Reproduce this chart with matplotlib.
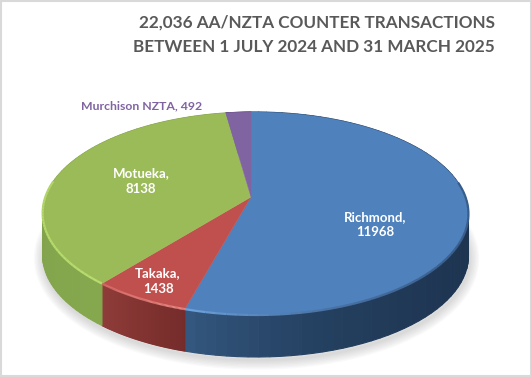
import numpy as np
import matplotlib
matplotlib.use('Agg')
import matplotlib.pyplot as plt
from matplotlib.patches import Rectangle

# values clockwise from 12 o'clock
categories = ['Richmond', 'Takaka', 'Motueka', 'Murchison NZTA']
values = [11968, 1438, 8138, 492]
top_colors = ['#4f81bd', '#c0504d', '#9bbb59', '#8064a2']
# side shading, from start to end of each slice
side_colors = [('#1d3450', '#33577f'), ('#752c2a', '#8f3c39'), ('#85a84e', '#7c9b48'), ('#5f4a7a', '#5f4a7a')]
edge_colors = [('#375c8a', '#6fa2dc'), ('#e88a86', '#d96c68'), ('#b9dc70', '#a8cc62'), ('#8064a2', '#8064a2')]
shade_power = [6, 1, 1, 1]
title_lines = ['22,036 AA/NZTA COUNTER TRANSACTIONS', 'BETWEEN 1 JULY 2024 AND 31 MARCH 2025']

CX, CY = 251, 197
RX, RY = 210, 98.8
TILT, SKEW = 0.1626, 0.021
DEPTH = 42


def project(angle):
    """Angle clockwise from the top of the disc to pixel position, with perspective."""
    u, v = np.sin(angle), -np.cos(angle)
    w = 1 - TILT * v - SKEW * u
    return CX + RX * u / w, CY + RY * v / w


def blend(c1, c2, t):
    a, b = np.array(matplotlib.colors.to_rgb(c1)), np.array(matplotlib.colors.to_rgb(c2))
    return tuple(a + (b - a) * t)


fig = plt.figure(figsize=(5.31, 3.77), dpi=100)
ax = fig.add_axes([0, 0, 1, 1])
ax.set_xlim(0, 531)
ax.set_ylim(377, 0)
ax.axis('off')

ax.add_patch(Rectangle((0.5, 0.5), 530, 375.5, fill=False, ec='#d9d9d9', lw=1.5))

edges = np.cumsum([0] + values) / sum(values) * 2 * np.pi

# soft shadow under the disc
rim = np.linspace(0, 2 * np.pi, 361)
rx, ry = project(rim)
for lw in np.arange(14, 1, -2):
    ax.plot(rx + 1, ry + DEPTH + 3, color='#808080', lw=lw, alpha=0.045, solid_capstyle='round', zorder=2)

# side wall
for i, val in enumerate(values):
    ang = np.linspace(edges[i], edges[i + 1], 80)
    xs, ys = project(ang)
    for j in range(len(ang) - 1):
        t = (j / (len(ang) - 2)) ** shade_power[i]
        c = blend(side_colors[i][0], side_colors[i][1], t)
        ax.fill([xs[j], xs[j + 1], xs[j + 1], xs[j]],
                [ys[j], ys[j + 1], ys[j + 1] + DEPTH, ys[j] + DEPTH],
                color=c, lw=0.8, zorder=3)

# top face
for i, val in enumerate(values):
    ang = np.linspace(edges[i], edges[i + 1], 120)
    xs, ys = project(ang)
    ax.fill(np.r_[CX, xs], np.r_[CY, ys], color=top_colors[i], lw=0.3, zorder=4)

# bevel highlight along the near edge
for i, val in enumerate(values):
    ang = np.linspace(edges[i], edges[i + 1], 80)
    xs, ys = project(ang)
    for j in range(len(ang) - 1):
        if np.cos(ang[j]) < 0.15:
            t = (j / (len(ang) - 2)) ** shade_power[i]
            c = blend(edge_colors[i][0], edge_colors[i][1], t)
            ax.plot(xs[j:j + 2], ys[j:j + 2], color=c, lw=1.6, solid_capstyle='butt', zorder=5)

font = 'Lato'
for line, y in zip(title_lines, [23, 47]):
    ax.text(495, y, line, ha='right', va='center', family=font, weight='bold', fontsize=12.3, color='#595959', zorder=6)

ax.text(81, 106, f'{categories[3]}, {values[3]}', ha='left', va='center', family=font, weight='bold',
        fontsize=8.8, color='#8064a2', zorder=6)
label_pos = [(375, 224.5), (158, 281), (141, 181)]
for name, val, (x, y) in zip(categories[:3], values[:3], label_pos):
    ax.text(x, y, f'{name},\n{val}', ha='center', va='center', multialignment='center', family=font, weight='bold',
            fontsize=9.5, color='white', linespacing=1.38, zorder=6)

fig.savefig('out.png', dpi=100)
